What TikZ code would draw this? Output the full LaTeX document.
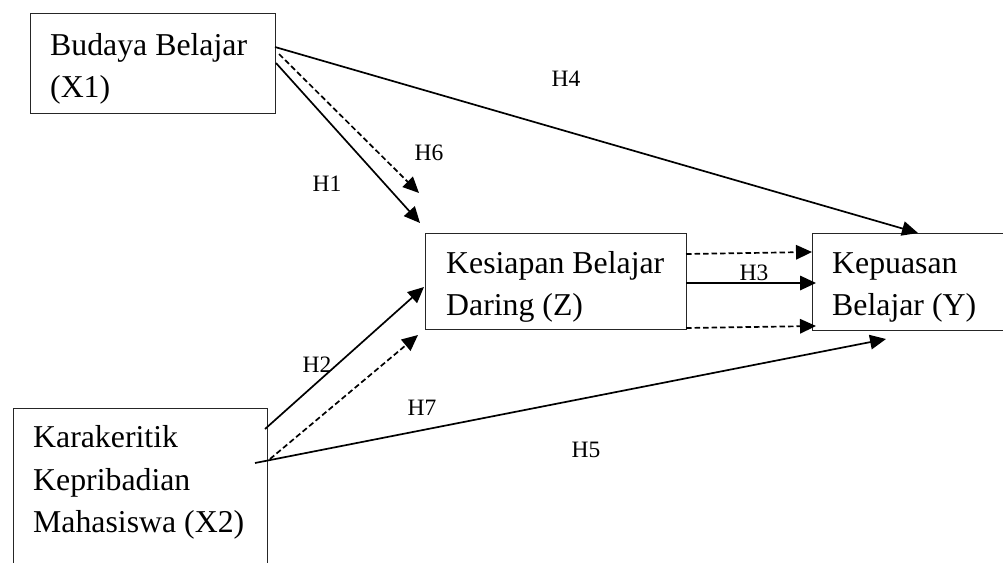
\documentclass[tikz,border=0pt]{standalone}
\usepackage{fontspec}
\setmainfont{Liberation Serif}
\usetikzlibrary{arrows.meta}
\begin{document}
\begin{tikzpicture}[x=1pt,y=-1pt,
  box/.style={draw=black!85, line width=1.1pt, inner sep=0pt, anchor=north west},
  boxtext/.style={anchor=base west, inner sep=0pt, font=\fontsize{31.8}{43}\selectfont},
  hlabel/.style={inner sep=0pt, font=\fontsize{23.5}{28}\selectfont},
  conn/.style={line width=1.7pt, -{Triangle[length=16pt,width=14.5pt]}},
  dconn/.style={conn, dash pattern=on 5.5pt off 3pt}]
\clip (0,0) rectangle (1003,562);
% boxes
\node[box, minimum width=245pt, minimum height=100pt] (x1) at (30,13) {};
\node[box, minimum width=254pt, minimum height=200pt] (x2) at (13,408) {};
\node[box, minimum width=261pt, minimum height=96pt] (z) at (425,233) {};
\node[box, minimum width=250pt, minimum height=97pt] (y) at (812,233) {};
% box texts
\node[boxtext] (x1a) at (50,55) {Budaya Belajar};
\node[boxtext] (x1b) at (50,97) {(X1)};
\node[boxtext] (x2a) at (33,447) {Karakeritik};
\node[boxtext] (x2b) at (33,490) {Kepribadian};
\node[boxtext] (x2c) at (33,532) {Mahasiswa (X2)};
\node[boxtext] (za) at (446,273) {Kesiapan Belajar};
\node[boxtext] (zb) at (446,315) {Daring (Z)};
\node[boxtext] (ya) at (832,273) {Kepuasan};
\node[boxtext] (yb) at (832,315) {Belajar (Y)};
% connector end points
\coordinate (h4s) at (275,47);  \coordinate (h4e) at (918,233);
\coordinate (h6s) at (279,54);  \coordinate (h6e) at (419,193);
\coordinate (h1s) at (276,63);  \coordinate (h1e) at (420,223);
\coordinate (h3as) at (686,254); \coordinate (h3ae) at (812,252);
\coordinate (h3bs) at (686,283); \coordinate (h3be) at (816,283);
\coordinate (h3cs) at (686,328); \coordinate (h3ce) at (816,326);
\coordinate (h2s) at (265,429); \coordinate (h2e) at (424,287);
\coordinate (h2ds) at (270,459); \coordinate (h2de) at (418,335);
\coordinate (h7s) at (255,463); \coordinate (h7e) at (886,339);
% connectors
\draw[conn] (h4s) -- (h4e);
\draw[dconn] (h6s) -- (h6e);
\draw[conn] (h1s) -- (h1e);
\draw[dconn] (h3as) -- (h3ae);
\draw[conn] (h3bs) -- (h3be);
\draw[dconn] (h3cs) -- (h3ce);
\draw[conn] (h2s) -- (h2e);
\draw[dconn] (h2ds) -- (h2de);
\draw[conn] (h7s) -- (h7e);
% labels
\node[hlabel] (lh4) at (566,79) {H4};
\node[hlabel] (lh6) at (429,153) {H6};
\node[hlabel] (lh1) at (327,184) {H1};
\node[hlabel] (lh3) at (754,273) {H3};
\node[hlabel] (lh2) at (317,365) {H2};
\node[hlabel] (lh7) at (422,408) {H7};
\node[hlabel] (lh5) at (586,450) {H5};
\end{tikzpicture}
\end{document}
